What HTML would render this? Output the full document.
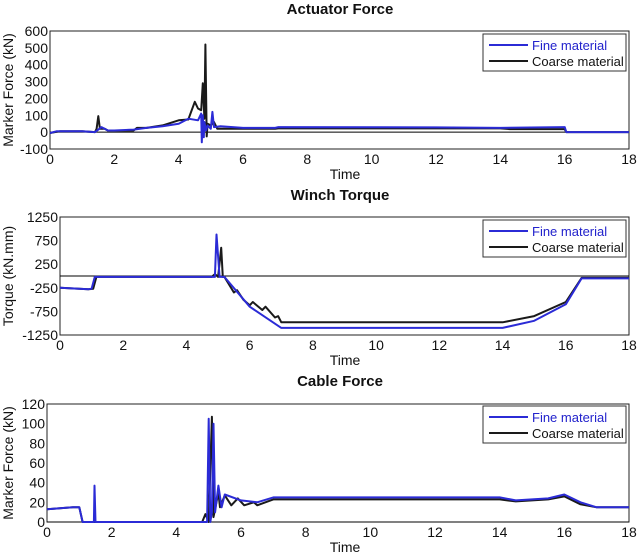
<!DOCTYPE html>
<html><head><meta charset="utf-8"><style>
html,body{margin:0;padding:0;background:#fff;}
svg{display:block;font-family:"Liberation Sans","DejaVu Sans",sans-serif;}
</style></head><body>
<svg id="c" width="640" height="560" viewBox="0 0 640 560"></svg>
<script>
// ---- Actuator Force data ----
const actFineT=[0,0.2,1.0,1.4,1.5,1.6,1.8,2.0,2.6,3.0,3.5,4.0,4.3,4.6,4.7,4.72,4.75,4.78,4.8,4.85,4.9,5.0,5.05,5.1,5.3,6,7,7.1,12,14,16,16.05,18];
const actFineV=[-5,5,5,0,15,30,10,10,15,25,35,50,80,70,110,-60,100,-30,60,10,40,20,120,30,35,25,25,30,28,25,30,0,0];
const actCoarseT=[0,0.3,1,1.4,1.45,1.5,1.55,1.7,1.8,2.6,2.7,3,3.5,4,4.3,4.5,4.6,4.7,4.75,4.8,4.83,4.87,4.9,5.0,5.1,5.2,6,7,7.1,14,14.3,16,16.05,18];
const actCoarseV=[-5,5,5,0,20,95,20,20,10,10,25,25,40,70,75,180,140,130,290,80,520,-25,50,40,60,20,20,20,22,22,18,18,0,0];
const actYTicks=[600,500,400,300,200,100,0,-100];
// ---- Winch Torque data ----
const winFineT=[0,0.9,1.0,1.1,4.9,4.95,5.05,5.2,6,7,14,15,16,16.5,18];
const winFineV=[-250,-280,-270,-20,-20,880,-20,-20,-650,-1100,-1100,-950,-600,-50,-50];
const winCoarseT=[0,0.9,1.05,1.15,4.8,4.9,5.0,5.1,5.15,5.2,5.5,5.6,5.8,6.0,6.1,6.4,6.5,6.8,6.9,7,14,15,16,16.5,18];
const winCoarseV=[-250,-280,-270,-20,-20,40,-20,600,-20,-20,-350,-300,-500,-620,-550,-720,-650,-880,-850,-980,-980,-850,-550,-40,-40];
const winYTicks=[1250,750,250,-250,-750,-1250];
// ---- Cable Force data ----
const cabFineT=[0,0.8,1.0,1.1,1.45,1.47,1.5,4.95,5.0,5.05,5.1,5.15,5.2,5.3,5.4,5.5,6,6.5,7,14,14.5,15.5,16,16.5,17,18];
const cabFineV=[13,15,15,0,0,37,0,0,105,0,10,100,10,37,15,28,22,20,25,25,22,24,28,20,15,15];
const cabCoarseT=[0,0.8,1.0,1.1,4.8,4.9,5.0,5.1,5.12,5.15,5.3,5.35,5.5,5.7,5.9,6.1,6.4,6.5,7,14,14.5,15.5,16,16.5,17,18];
const cabCoarseV=[13,15,15,0,0,8,0,107,75,5,30,15,27,17,24,17,20,17,23,23,21,23,26,18,15,15];
const cabYTicks=[120,100,80,60,40,20,0];
const xTicks=[0,2,4,6,8,10,12,14,16,18];

const NS="http://www.w3.org/2000/svg";
const svg=document.getElementById('c');
function mk(tag,attrs,parent,text){const e=document.createElementNS(NS,tag);for(const k in attrs)e.setAttribute(k,attrs[k]);if(text!==undefined)e.textContent=text;(parent||svg).appendChild(e);return e;}

function chart(cfg){
  const g=mk('g',{});
  
  
  const {x0,x1,yTop,yBot,ymin,ymax}=cfg;
  const sx=t=>x0+(t-0)/18*(x1-x0);
  const sy=v=>yBot-(v-ymin)/(ymax-ymin)*(yBot-yTop);
  mk('rect',{x:x0,y:yTop,width:x1-x0,height:yBot-yTop,fill:'#fff',stroke:'#222','stroke-width':1},g);
  const z=mk('line',{x1:x0,x2:x1,y1:sy(0),y2:sy(0),stroke:'#000','stroke-width':1},g);
  
  
  const tt=mk('text',{x:340,y:cfg.titleY,'text-anchor':'middle','font-size':15,'font-weight':'bold',fill:'#111'},g,cfg.title);
  
  
  xTicks.forEach(t=>{
    const l=mk('text',{x:sx(t),y:yBot+15,'text-anchor':'middle','font-size':14,fill:'#111'},g,String(t));
    
    
  });
  cfg.yTicks.forEach(v=>{
    const l=mk('text',{x:x0-2,y:sy(v)+5,'text-anchor':'end','font-size':14,fill:'#111'},g,String(v));
    
    
  });
  const xl=mk('text',{x:345,y:yBot+30,'text-anchor':'middle','font-size':14,fill:'#111'},g,'Time');
  
  
  const yl=mk('text',{x:0,y:0,'text-anchor':'middle','font-size':14,fill:'#111',transform:`translate(${cfg.ylabX},${(yTop+yBot)/2}) rotate(-90)`},g,cfg.ylab);
  
  
  const pts=(T,V)=>T.map((t,i)=>sx(t).toFixed(1)+','+sy(V[i]).toFixed(1)).join(' ');
  const pc=mk('polyline',{points:pts(cfg.cT,cfg.cV),fill:'none',stroke:'#1a1a1a','stroke-width':2,'stroke-linejoin':'round'},g);
  
  
  const pf=mk('polyline',{points:pts(cfg.fT,cfg.fV),fill:'none',stroke:'#2b2bd6','stroke-width':2,'stroke-linejoin':'round'},g);
  
  
  const lg=mk('g',{},g);
  
  
  const ly=cfg.legY;
  mk('rect',{x:483,y:ly,width:143,height:37,fill:'#fff',stroke:'#333','stroke-width':1},lg);
  mk('line',{x1:489,x2:528,y1:ly+11,y2:ly+11,stroke:'#2b2bd6','stroke-width':2},lg);
  mk('line',{x1:489,x2:528,y1:ly+27,y2:ly+27,stroke:'#1a1a1a','stroke-width':2},lg);
  mk('text',{x:532,y:ly+16,'font-size':13,fill:'#2222cc'},lg,'Fine material');
  mk('text',{x:532,y:ly+32,'font-size':13,fill:'#111'},lg,'Coarse material');
}
chart({name:'actuator-force-chart',title:'Actuator Force',titleY:14,x0:50,x1:629,yTop:31,yBot:149,ymin:-100,ymax:600,yTicks:actYTicks,ylab:'Marker Force (kN)',ylabX:13,fT:actFineT,fV:actFineV,cT:actCoarseT,cV:actCoarseV,legY:34});
chart({name:'winch-torque-chart',title:'Winch Torque',titleY:200,x0:60,x1:629,yTop:217,yBot:335,ymin:-1250,ymax:1250,yTicks:winYTicks,ylab:'Torque (kN.mm)',ylabX:13,fT:winFineT,fV:winFineV,cT:winCoarseT,cV:winCoarseV,legY:220});
chart({name:'cable-force-chart',title:'Cable Force',titleY:386,x0:47,x1:629,yTop:404,yBot:522,ymin:0,ymax:120,yTicks:cabYTicks,ylab:'Marker Force (kN)',ylabX:13,fT:cabFineT,fV:cabFineV,cT:cabCoarseT,cV:cabCoarseV,legY:406});
</script>
</body></html>
